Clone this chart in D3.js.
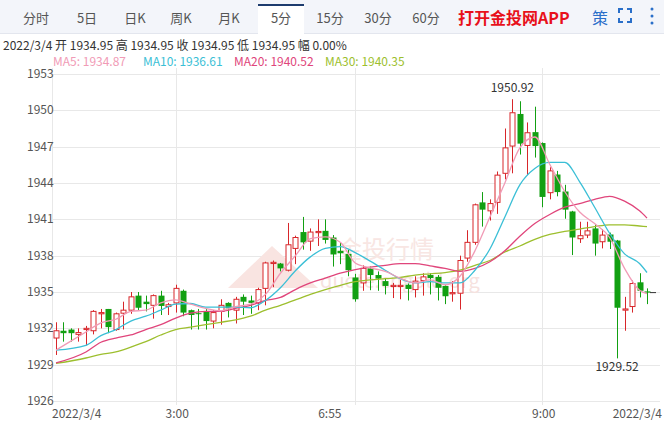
<!DOCTYPE html>
<html><head><meta charset="utf-8">
<script src="https://cdn.jsdelivr.net/npm/d3@7/dist/d3.min.js"></script>
<style>body{margin:0;background:#fff;font-family:"Microsoft YaHei","Noto Sans CJK SC",Arial,sans-serif}</style>
</head><body><svg id="c" width="664" height="421"></svg>
<script>
const opens=[1931.2,1931.8,1931.9,1931.5,1931.9,1931.8,1933.2,1933.6,1931.9,1933.25,1933.5,1934.7,1934.2,1933.9,1934.7,1933.8,1934.1,1935.1,1933.5,1933.25,1933.4,1932.6,1933.4,1934.1,1933.5,1934.6,1934.3,1934.1,1935.3,1937.35,1937.35,1936.8,1938.6,1939.95,1939.2,1939.9,1940.05,1939.5,1938.4,1938.15,1936.2,1935.75,1936.95,1936.4,1935.9,1935.45,1935.45,1935.6,1935.2,1935.95,1936.4,1936.25,1935.5,1934.85,1934.9,1937.8,1939.1,1942.4,1941.7,1942.4,1944.8,1947.05,1949.7,1947.1,1948.2,1947.3,1943.2,1944.7,1943.3,1941.65,1939.4,1939.7,1940.25,1939.15,1939.75,1939.25,1933.5,1933.8,1935.8,1935.05];
const highs=[1932.5,1932.5,1932,1932,1932.2,1933.5,1933.6,1933.6,1933.3,1934.2,1935,1935,1934.7,1934.8,1935.1,1934.1,1935.6,1935.2,1933.55,1933.6,1933.6,1933.5,1934.4,1934.15,1934.6,1934.8,1934.7,1935.35,1937.5,1937.6,1937.4,1940.7,1939.65,1941.2,1940.25,1941,1941,1939.7,1939.1,1938.5,1936.5,1937.2,1937.1,1936.7,1936.15,1935.75,1936,1935.7,1936.3,1936.55,1936.55,1936.4,1935.55,1935.9,1938,1940.1,1942.3,1943.25,1942.65,1944.95,1948.5,1950.92,1950.75,1949,1950.3,1947.35,1945.3,1945,1943.85,1941.7,1940.8,1940.8,1940.6,1940.2,1939.9,1939.3,1934.6,1935.95,1936.55,1935.3];
const lows=[1929.8,1930.9,1930.9,1930.9,1930.6,1931.5,1932,1931.6,1931.8,1931.9,1933.2,1933.5,1933.4,1932.8,1933.1,1933.1,1933.3,1933,1931.9,1931.9,1931.9,1932,1932.3,1932.9,1932.4,1933.1,1933.2,1933.5,1933.9,1935.4,1936.7,1936.7,1937.3,1938.5,1938.4,1938.8,1939,1937.1,1937.3,1936.3,1934.2,1935.1,1935.15,1935.1,1934.8,1934.5,1934.4,1934.3,1934.55,1934.7,1934.8,1934.3,1934,1934.2,1933.55,1937.5,1938.9,1940.4,1940.9,1941.45,1944.3,1944.8,1946.35,1944.65,1946.1,1942,1942.65,1942.9,1941.05,1938.05,1939.05,1939.45,1938,1938.6,1938.55,1929.52,1931.8,1933.3,1934.55,1934];
const closes=[1931.8,1931.6,1931.6,1931.65,1932,1933.4,1933.3,1932.1,1933.2,1933.5,1934.6,1933.7,1934,1934.7,1933.85,1933.95,1935.3,1933.3,1933.1,1933.2,1932.6,1933.3,1933.9,1933.65,1934.4,1934.2,1934.1,1935.2,1937.4,1937.45,1936.95,1938.9,1939.5,1939.1,1939.95,1940,1939.3,1938.1,1938.2,1936.8,1934.4,1936.95,1936.4,1936.1,1935.5,1935.55,1935.55,1935.25,1935.9,1936.25,1936.15,1935.35,1934.65,1934.95,1937.6,1939.1,1942.2,1941.8,1942.3,1944.65,1946.9,1949.8,1947.25,1948.15,1947.05,1942.85,1945,1943.25,1941.8,1939.5,1939.65,1940.05,1939,1939.7,1939.15,1933.7,1933.6,1935.7,1935.1,1934.95];
const maIdx=[0,4,6,8,10,12,14,16,18,20,22,24,26,28,30,32,34,36,38,40,42,44,46,48,50,52,54,56,58,60,62,64,66,68,70,72,74,76,78,79];
const ma5=[1930.2,1931.7,1932.45,1932.75,1933.4,1933.5,1934.1,1934.35,1934,1933.65,1933.45,1933.8,1934,1934.8,1936.55,1938,1939.4,1939.55,1939.1,1937.4,1937,1936.7,1936.15,1935.75,1936,1935.6,1936.3,1938.4,1941.2,1944,1946.9,1947.8,1945.55,1943.3,1941.6,1940.65,1939.5,1936.95,1935.15,1934.87];
const ma10=[1930.2,1930.6,1931.4,1931.9,1932.6,1933,1933.5,1934,1934.05,1933.75,1933.75,1933.75,1933.7,1934.3,1935.35,1936.75,1937.9,1938.6,1938.75,1938.25,1937.55,1936.8,1936.1,1935.75,1935.85,1935.75,1935.75,1936.8,1938.55,1941.2,1943.85,1945.2,1945.7,1945.7,1944.1,1942,1939.85,1938.15,1937.35,1936.61];
const ma20=[1929.15,1930.05,1930.85,1931.2,1931.45,1931.9,1932.3,1932.85,1933.25,1933.4,1933.4,1933.65,1933.9,1934.3,1934.55,1935.2,1935.75,1936.15,1936.55,1936.85,1937.05,1937.2,1937.35,1937.35,1937.15,1936.95,1936.7,1936.95,1937.5,1938.4,1939.6,1940.65,1941.4,1942,1942.3,1942.65,1942.9,1942.5,1941.7,1941.1];
const ma30=[1929.1,1929.55,1929.85,1930.05,1930.45,1930.9,1931.45,1931.9,1932.1,1932.3,1932.5,1932.7,1933,1933.5,1933.9,1934.35,1934.8,1935.2,1935.55,1935.85,1936,1936.1,1936.2,1936.4,1936.5,1936.6,1936.8,1937.2,1937.6,1938.3,1938.8,1939.35,1939.75,1940,1940.2,1940.4,1940.55,1940.55,1940.45,1940.4];
const yTicks=[1926,1929,1932,1935,1938,1941,1944,1947,1950,1953];
const xTickIdx=[16,40,65];
const xLabels=[{i:0,t:"2022/3/4",a:"start"},{i:16.2,t:"3:00",a:"middle"},{i:36.6,t:"6:55",a:"middle"},{i:65.2,t:"9:00",a:"middle"},{i:79,t:"2022/3/4",a:"end"}];
const tabs=["分时","5日","日K","周K","月K","5分","15分","30分","60分"];
const tabX=[36,87,135,181,229,281,330,378,426];

const svg=d3.select("#c");
const L=52,R=660,T=68,B=405;
const x=d3.scaleLinear().domain([0,79]).range([56,647]);
const y=d3.scaleLinear().domain([1926,1953]).range([401,74]);
svg.append("rect").attr("x",0).attr("y",0).attr("width",664).attr("height",33).attr("fill","#f3f5fa");
svg.append("line").attr("x1",0).attr("x2",664).attr("y1",33.5).attr("y2",33.5).attr("stroke","#e3e6ee");
svg.append("rect").attr("x",258).attr("y",4).attr("width",46).attr("height",30).attr("fill","#fff");
svg.append("rect").attr("x",258).attr("y",4).attr("width",46).attr("height",2).attr("fill","#1d3c6e");
svg.selectAll(".tab").data(tabs).join("text").attr("x",(d,i)=>tabX[i]).attr("y",23).attr("text-anchor","middle")
 .attr("font-size",13).attr("fill","#555").text(d=>d);
svg.append("text").attr("x",458).attr("y",24).attr("font-size",16).attr("font-weight","bold").attr("fill","#e8111b").text("打开金投网APP");
svg.append("text").attr("x",592).attr("y",24).attr("font-size",16).attr("fill","#2a6fc9").text("策");
const ic=svg.append("g").attr("stroke","#2a6fc9").attr("stroke-width",2).attr("fill","none");
[[619,9,1,1],[631,9,-1,1],[619,22,1,-1],[631,22,-1,-1]].forEach(([a,b,sx,sy])=>ic.append("path").attr("d",`M${a},${b+4*sy}V${b}H${a+4*sx}`));
[9,16,23].forEach(cy=>svg.append("circle").attr("cx",652).attr("cy",cy).attr("r",1.5).attr("fill","#2a6fc9"));
svg.append("text").attr("x",3).attr("y",50).attr("font-size",12).attr("fill","#333").text("2022/3/4  开 1934.95  高 1934.95  收 1934.95  低 1934.95  幅 0.00%");
const mh=[["MA5: 1934.87","#f19bb6",53],["MA10: 1936.61","#3bbfd6",143],["MA20: 1940.52","#e0457b",234],["MA30: 1940.35","#9dbf2e",325]];
mh.forEach(([t,c,xx])=>svg.append("text").attr("x",xx).attr("y",66).attr("font-size",12).attr("fill",c).text(t));
svg.selectAll(".hg").data(yTicks).join("line").attr("x1",L).attr("x2",R).attr("y1",d=>Math.round(y(d))+.5).attr("y2",d=>Math.round(y(d))+.5).attr("stroke","#e8e8e8");
svg.selectAll(".vg").data(xTickIdx).join("line").attr("x1",d=>Math.round(x(d))+.5).attr("x2",d=>Math.round(x(d))+.5).attr("y1",T).attr("y2",B).attr("stroke","#e8e8e8");
svg.append("line").attr("x1",L+.5).attr("x2",L+.5).attr("y1",T).attr("y2",B).attr("stroke","#e8e8e8");
svg.selectAll(".yl").data(yTicks).join("text").attr("x",27).attr("y",d=>y(d)+4).attr("font-size",12).attr("fill","#555").text(d=>d);
svg.selectAll(".xl").data(xLabels).join("text").attr("x",d=>d.a==="start"?52:d.a==="end"?662:x(d.i)).attr("y",418).attr("text-anchor",d=>d.a).attr("font-size",12).attr("fill","#555").text(d=>d.t);
// watermark
svg.append("path").attr("d","M228,288 L272,246 L318,288 Z").attr("fill","#f9e4e1");
svg.append("text").attr("x",338).attr("y",258).attr("font-size",24).attr("fill","#f8e6e3").text("金投行情");
svg.append("text").attr("x",320).attr("y",288).attr("font-size",20).attr("fill","#f6e2df").text("quote.cngold.org");
const g=svg.append("g");
d3.range(80).forEach(i=>{
 const up=closes[i]>=opens[i], col=up?"#d8262a":"#12a012", cx=Math.round(x(i))+.5;
 g.append("line").attr("x1",cx).attr("x2",cx).attr("y1",y(highs[i])).attr("y2",y(lows[i])).attr("stroke",col);
 const top=y(Math.max(opens[i],closes[i])), h=Math.max(1,Math.abs(y(opens[i])-y(closes[i])));
 if(up) g.append("rect").attr("x",cx-2.5).attr("y",top).attr("width",5).attr("height",h).attr("fill","#fff").attr("stroke",col);
 else g.append("rect").attr("x",cx-3).attr("y",top).attr("width",6).attr("height",h).attr("fill",col);
});
const line=arr=>d3.line().x((d,k)=>x(maIdx[k])).y(d=>y(d)).curve(d3.curveMonotoneX)(arr);
[[ma30,"#9dbf2e"],[ma20,"#e0457b"],[ma10,"#3bbfd6"],[ma5,"#f19bb6"]].forEach(([a,c])=>svg.append("path").attr("d",line(a)).attr("fill","none").attr("stroke",c).attr("stroke-width",1.3));
svg.append("line").attr("x1",650).attr("x2",656).attr("y1",y(1934.95)).attr("y2",y(1934.95)).attr("stroke","#333");
svg.append("text").attr("x",x(61)).attr("y",y(1950.92)-7).attr("text-anchor","middle").attr("font-size",12).attr("fill","#333").text("1950.92");
svg.append("text").attr("x",x(75)).attr("y",y(1929.52)+13).attr("text-anchor","middle").attr("font-size",12).attr("fill","#333").text("1929.52");
</script></body></html>
